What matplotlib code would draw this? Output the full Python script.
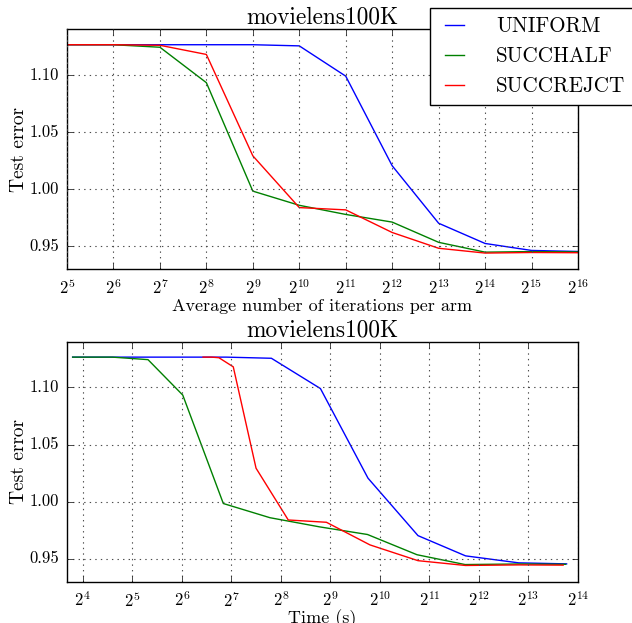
import matplotlib
matplotlib.use("Agg")
import matplotlib.pyplot as plt
from matplotlib.ticker import LogLocator, LogFormatterMathtext, NullLocator

plt.style.use('classic')
plt.rcParams['font.family'] = 'serif'
plt.rcParams['font.serif'] = ['cmr10']
plt.rcParams['mathtext.fontset'] = 'cm'
plt.rcParams['axes.unicode_minus'] = False
plt.rcParams['axes.formatter.use_mathtext'] = True

title = "movielens100K"
labels = ["UNIFORM", "SUCCHALF", "SUCCREJCT"]
colors = ["b", "g", "r"]

iters = [2**5, 2**6, 2**7, 2**8, 2**9, 2**10, 2**11, 2**12, 2**13, 2**14, 2**15, 2**16]

err_uniform = [1.1265, 1.1265, 1.1265, 1.1265, 1.1265, 1.1255, 1.099, 1.0206, 0.9703, 0.9526, 0.9465, 0.9456]
err_succhalf = [1.1265, 1.1265, 1.1243, 1.0933, 0.9984, 0.986, 0.978, 0.9713, 0.9536, 0.945, 0.9455, 0.9452]
err_succrej = [1.1265, 1.1265, 1.126, 1.118, 1.0293, 0.984, 0.982, 0.9622, 0.9484, 0.9442, 0.9447, 0.9445]

time_uniform = [13.9, 22.6, 39.4, 68.6, 119.4, 224.4, 445.7, 867.0, 1746.0, 3397.0, 7132.0, 13970.0]
time_succhalf = [13.9, 24.3, 39.9, 64.9, 114.5, 219.8, 439.5, 861.0, 1722.0, 3373.0, 7132.0, 13777.0]
time_succrej = [86.2, 97.0, 107.6, 131.6, 181.0, 284.1, 484.4, 891.4, 1746.0, 3397.0, 7132.0, 13308.0]

errs = [err_uniform, err_succhalf, err_succrej]
times = [time_uniform, time_succhalf, time_succrej]

W, H = 632, 623
fig = plt.figure(figsize=(W / 100, H / 100), dpi=100, facecolor='white')

def px_axes(l, t, r, b):
    return fig.add_axes([l / W, 1 - b / H, (r - l) / W, (b - t) / H])

ax1 = px_axes(67, 29.3, 578, 269.3)
ax2 = px_axes(67, 341.7, 578, 581.7)

tick_fs = 12
for ax in (ax1, ax2):
    ax.set_xscale('log', base=2)
    ax.xaxis.set_major_locator(LogLocator(base=2, numticks=20))
    ax.xaxis.set_major_formatter(LogFormatterMathtext(base=2))
    ax.xaxis.set_minor_locator(NullLocator())
    ax.set_ylim(0.93, 1.14)
    ax.set_yticks([0.95, 1.00, 1.05, 1.10])
    ax.set_yticklabels(["0.95", "1.00", "1.05", "1.10"])
    ax.grid(True, linestyle=':', color='0.3', linewidth=0.8)
    ax.tick_params(labelsize=tick_fs, pad=6)
    ax.set_ylabel("Test error", fontsize=14, labelpad=1)
    ax.set_title(title, fontsize=16.8, pad=4)

lines = []
for e, c, lab in zip(errs, colors, labels):
    ln, = ax1.plot(iters, e, color=c, lw=1.0, label=lab)
    lines.append(ln)
ax1.set_xlim(2**5, 2**16)
ax1.set_xlabel("Average number of iterations per arm", fontsize=13, labelpad=1)

for t, e, c in zip(times, errs, colors):
    ax2.plot(t, e, color=c, lw=1.0)
ax2.set_xlim(2**3.683, 2**14)
ax2.set_xlabel("Time (s)", fontsize=13, labelpad=0)

leg = fig.legend(lines, labels, loc='upper right', bbox_to_anchor=(634 / W, 1 - 8 / H),
                 bbox_transform=fig.transFigure, borderaxespad=0, fontsize=15.2,
                 handlelength=1.5, handletextpad=1.25, labelspacing=0.5,
                 borderpad=0.4, fancybox=False, frameon=True)
leg.get_frame().set_edgecolor('black')
leg.get_frame().set_linewidth(1.0)

fig.savefig("out.png", dpi=100, facecolor='white')
